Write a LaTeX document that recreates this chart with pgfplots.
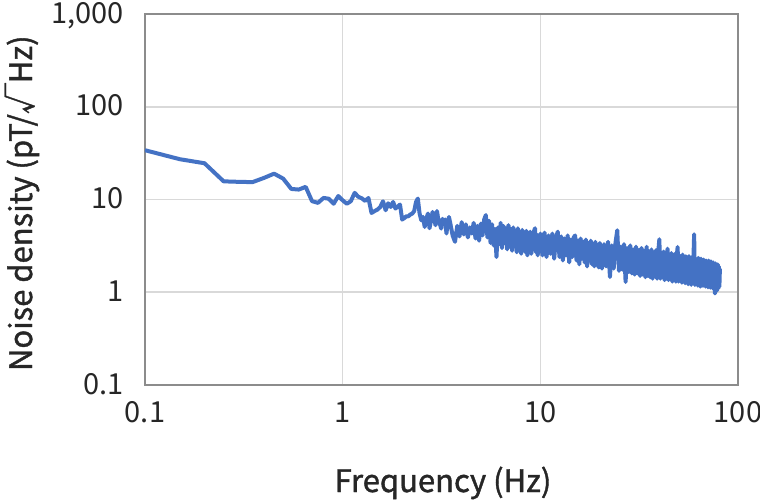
\documentclass[border=0pt]{standalone}
\usepackage{fontspec}
\setmainfont{Noto Sans CJK JP}
\newfontfamily\labfont[FakeBold=1.3]{Noto Sans CJK JP}
\usepackage{pgfplots}
\pgfplotsset{compat=1.18}
\definecolor{lineblue}{HTML}{4472C4}
\definecolor{gridgray}{HTML}{D9D9D9}
\definecolor{framegray}{HTML}{8C8C8C}
\definecolor{txt}{HTML}{262626}

\begin{document}
\begin{tikzpicture}
\begin{axis}[
    xmode=log, ymode=log,
    scale only axis,
    width=296.5pt, height=185.5pt,
    xmin=0.1, xmax=100,
    ymin=0.1, ymax=1000,
    xtick={0.1,1,10,100},
    xticklabels={0.1,1,10,100},
    ytick={0.1,1,10,100,1000},
    yticklabels={0.1,1,10,100,{1,000}},
    xminorticks=false, yminorticks=false,
    major tick length=0pt,
    grid=major,
    major grid style={draw=gridgray, line width=0.8pt},
    axis line style={draw=framegray, line width=0.7pt},
    ticklabel style={font=\fontsize{14.5}{17}\selectfont, text=txt, inner sep=0pt},
    xticklabel style={anchor=center, yshift=-13.5pt},
    yticklabel style={anchor=base east, xshift=-10.5pt, yshift=-4.6pt},
    xlabel={Frequency (Hz)},
    ylabel={Noise density (pT/√Hz)},
    label style={font=\labfont\fontsize{15.5}{19}\selectfont, text=txt},
    xlabel style={at={(axis description cs:0.5025,-0.264)}, anchor=center},
    ylabel style={at={(axis description cs:-0.2074,0.49)}, anchor=center, rotate=0},
]
\addplot[color=lineblue, line width=2pt, line join=round, mark=none] coordinates {
(0.10,34.0)(0.15,27.2)(0.20,24.6)(0.25,15.7)(0.30,15.5)(0.35,15.4)(0.40,17.1)
(0.45,19.0)(0.50,16.8)(0.55,13.0)(0.60,12.8)(0.65,13.7)(0.70,9.6)(0.75,9.2)
(0.80,10.4)(0.85,10.2)(0.90,9.0)(0.95,10.9)(1.00,9.8)(1.05,9.0)(1.10,9.6)
(1.15,11.8)(1.20,10.7)(1.25,10.3)(1.30,9.65)(1.35,10.39)(1.40,7.16)(1.45,7.5)
(1.50,7.79)(1.55,8.31)(1.60,9.57)(1.65,7.66)(1.70,9.11)(1.75,8.31)(1.80,9.41)
(1.85,7.99)(1.90,8.4)(1.95,8.82)(2.00,6.08)(2.05,6.3)(2.10,6.6)(2.15,6.6)
(2.20,6.9)(2.25,7.06)(2.30,7.5)(2.35,9.41)(2.40,10.24)(2.45,7.06)(2.50,5.97)
(2.55,6.5)(2.60,5.06)(2.65,6.2)(2.70,7.06)(2.75,4.90)(2.80,6.0)(2.85,7.34)
(2.90,6.2)(2.95,5.28)(3.00,7.52)(3.05,6.0)(3.10,5.5)(3.15,4.86)(3.20,6.2)
(3.25,5.50)(3.30,6.1)(3.35,4.30)(3.40,5.6)(3.45,6.48)
(3.5,5.6)(3.6,4.1)(3.7,3.5)(3.8,5.2)(3.9,4.0)(4.0,5.7)(4.1,4.2)(4.2,5.4)
(4.3,3.9)(4.4,5.0)(4.5,4.3)(4.6,5.6)(4.7,3.8)(4.8,5.2)(4.9,3.6)(5.0,5.5)
(5.1,4.1)(5.2,6.1)(5.3,6.8)(5.4,3.9)(5.5,5.9)(5.6,3.4)(5.7,5.4)(5.8,3.2)
(5.9,4.8)(6.0,2.4)(6.1,5.0)(6.2,3.3)(6.3,5.6)(6.4,3.0)(6.5,5.2)(6.6,3.4)
(6.7,4.9)(6.8,2.9)(6.9,5.3)(7.0,3.1)(7.1,4.8)(7.2,2.8)(7.3,5.0)(7.4,3.2)
(7.5,4.6)(7.6,2.7)(7.7,4.9)(7.8,3.0)(7.9,4.4)(8.0,2.6)(8.1,4.7)(8.2,3.1)
(8.3,4.3)(8.4,2.7)(8.5,4.6)(8.6,2.5)(8.7,4.2)(8.8,3.0)(8.9,4.5)(9.0,2.6)
(9.1,4.3)(9.2,2.9)(9.3,4.6)(9.4,4.9)(9.5,2.7)(9.6,4.2)(9.7,2.5)(9.8,4.0)
(9.9,2.8)(10.0,4.3)
(10.25,2.5)(10.5,4.4)(10.75,2.4)(11.0,4.1)(11.25,2.6)(11.5,4.3)(11.75,2.3)
(12.0,3.9)(12.25,4.5)(12.5,2.4)(12.75,4.0)(13.0,2.2)(13.25,3.8)(13.5,2.5)
(13.75,4.1)(14.0,2.1)(14.25,3.7)(14.5,2.4)(14.75,3.9)(15.0,4.1)(15.25,2.2)
(15.5,3.6)(15.75,2.0)(16.0,3.8)(16.25,2.3)(16.5,3.5)(16.75,2.1)(17.0,3.7)
(17.25,1.9)(17.5,3.4)(17.75,2.2)(18.0,3.6)(18.25,2.0)(18.5,3.3)(18.75,1.9)
(19.0,3.5)(19.25,2.1)(19.5,3.2)(19.75,1.85)(20.0,3.4)
(20.5,1.8)(21.0,3.3)(21.5,1.9)(22.0,3.5)(22.5,1.46)(23.0,3.2)(23.5,1.8)
(24.0,3.4)(24.5,4.66)(25.0,1.7)(25.5,3.1)(26.0,1.75)(26.5,3.3)(27.0,1.29)
(27.5,3.0)(28.0,1.65)(28.5,3.2)(29.0,1.6)(29.5,2.9)(30.0,1.55)(30.5,3.1)
(31.0,1.6)(31.5,2.85)(32.0,1.5)(32.5,3.0)(33.0,1.55)(33.5,2.8)(34.0,1.45)
(34.5,3.1)(35.0,1.5)(35.5,2.75)(36.0,1.45)(36.5,2.9)(37.0,1.4)(37.5,2.7)
(38.0,1.5)(38.5,2.85)(39.0,1.4)(39.5,2.7)(40.0,3.73)(40.5,1.4)(41.0,2.6)
(41.5,1.45)(42.0,2.75)(42.5,1.35)(43.0,2.6)(43.5,1.4)(44.0,2.95)(44.5,1.35)
(45.0,2.55)(45.5,1.4)(46.0,2.65)(46.5,1.3)(47.0,2.5)(47.5,1.38)(48.0,2.6)
(48.5,1.3)(49.0,2.45)(49.5,3.08)(50.0,1.3)(50.5,2.5)(51.0,1.32)(51.5,2.4)
(52.0,1.27)(52.5,2.55)(53.0,1.3)(53.5,2.4)(54.0,1.25)(54.5,2.45)(55.0,1.3)
(55.5,2.35)(56.0,1.22)(56.5,2.45)(57.0,1.28)(57.5,2.3)(58.0,1.2)(58.5,2.4)
(59.0,1.25)(59.5,2.3)(60.0,4.22)(60.5,1.2)(61.0,2.3)(61.5,1.25)(62.0,2.2)
(62.5,1.18)(63.0,2.35)(63.5,1.22)(64.0,2.2)(64.5,1.15)(65.0,2.3)(65.5,1.2)
(66.0,2.15)(66.5,1.17)(67.0,2.25)(67.5,1.2)(68.0,2.1)(68.5,1.15)(69.0,2.2)
(69.5,1.18)(70.0,2.1)(70.5,1.13)(71.0,2.2)(71.5,1.15)(72.0,2.05)(72.5,1.12)
(73.0,2.15)(73.5,1.15)(74.0,2.05)(74.5,1.1)(75.0,2.1)(75.5,1.12)(76.0,2.0)
(76.5,0.97)(77.0,2.05)(77.5,1.1)(78.0,1.95)(78.5,1.05)(79.0,2.0)(79.5,1.1)
(80.0,1.9)(80.5,1.15)(81.0,1.8)
};
\end{axis}
\pgfresetboundingbox
\path[use as bounding box] (-72.5pt,-57.5pt) rectangle (307.5pt,192.5pt);
\end{tikzpicture}
\end{document}
